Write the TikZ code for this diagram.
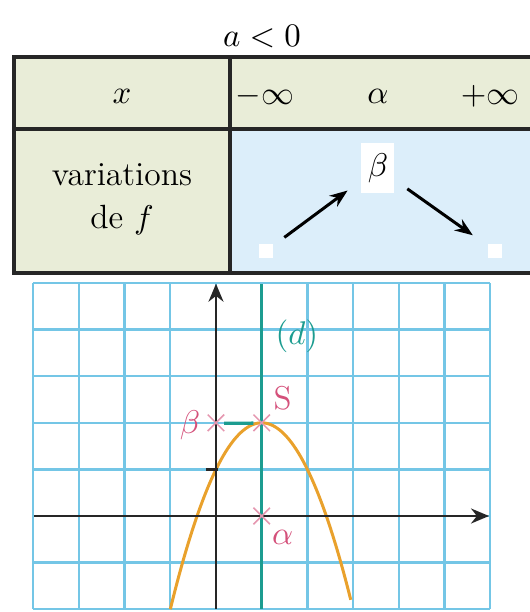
\documentclass[tikz,border=0pt]{standalone}
\usepackage{amsmath}
\usepackage{xcolor}
\usetikzlibrary{arrows.meta}
\usetikzlibrary{shapes.misc}
\usetikzlibrary{positioning}

\definecolor{vertpale}{HTML}{E9EDD8}
\definecolor{bleupale}{HTML}{DCEEFA}
\definecolor{bleugrille}{HTML}{74C6E6}
\definecolor{sarcelle}{HTML}{1C9C90}
\definecolor{rose}{HTML}{D4507A}
\definecolor{orange}{HTML}{E9A12C}

\tikzset{
  trait/.style={line width=1.1pt, draw=black!85},
  fleche/.style={line width=1pt, -{Stealth[length=6pt,width=4.5pt]}},
  blanc/.style={fill=white, minimum size=4.6pt, inner sep=0pt},
  boitebeta/.style={fill=white, minimum width=11pt, minimum height=16.5pt, inner sep=0pt},
  grille/.style={line width=0.8pt, bleugrille},
  axe/.style={line width=0.8pt, black!85},
  droite/.style={line width=0.8pt, sarcelle},
  courbe/.style={line width=1pt, orange},
  croix/.style={cross out, draw=rose!60, line width=0.5pt, minimum size=5pt, inner sep=0pt},
  etiq/.style={text=rose, font=\fontsize{11}{13}\selectfont}
}

\begin{document}
\begin{tikzpicture}[x=0.3333pt, y=-0.3333pt, font=\fontsize{11.2}{14.3}\selectfont]
\useasboundingbox (0,0) rectangle (530,612);

% tableau de variations
\fill[vertpale] (14,57) rectangle (532,129);
\fill[vertpale] (14,129) rectangle (230,273);
\fill[bleupale] (230,129) rectangle (532,273);
\draw[trait] (14,57) rectangle (532,273);
\draw[trait] (14,129) -- (532,129);
\draw[trait] (230,57) -- (230,273);

\node (titre) at (262,37) {$a<0$};
\node (x) at (122,96) {$x$};
\node (minf) at (265,96) {$-\infty$};
\node (alpha) at (378,96) {$\alpha$};
\node (pinf) at (490,96) {$+\infty$};
\node[align=center] (var) at (122,199) {variations\\de $f$};
\node[boitebeta] (beta) at (378,168) {$\beta$};
\node[blanc] (bas1) at (266,251) {};
\node[blanc] (bas2) at (495,251) {};
\draw[fleche, shorten <=4.5pt, shorten >=5.5pt] (bas1) -- (beta);
\draw[fleche, shorten <=5pt, shorten >=6pt] (beta) -- (bas2);

% repere et parabole
\begin{scope}[shift={(216,516)}, xscale=45.7, yscale=-46.6]
\foreach \i in {-4,...,6}
  \draw[grille] (\i,-2) -- (\i,5);
\foreach \j in {-2,...,5}
  \draw[grille] (-4,\j) -- (6,\j);

\coordinate (xg) at (-4,0);
\coordinate (xd) at (6,0);
\coordinate (yb) at (0,-2);
\coordinate (yh) at (0,5);
\coordinate (db) at (1,-2);
\coordinate (dh) at (1,5);

\draw[courbe] plot[domain=-1:2.95, samples=80] (\x,{2-(\x-1)^2});
\draw[axe, -{Stealth[length=6pt,width=5pt]}] (xg) -- (xd);
\draw[axe, -{Stealth[length=6pt,width=5pt]}] (yb) -- (yh);
\draw[droite] (db) -- (dh);
\draw[axe] (-0.22,1) -- (0.04,1);

\node[croix] (cb) at (0,2) {};
\node[croix] (S) at (1,2) {};
\node[croix] (ca) at (1,0) {};
\draw[droite, line width=1.1pt] (cb) -- (S);

\node[text=sarcelle, font=\fontsize{11}{13}\selectfont] (nomd) at (1.77,3.86) {$(d)$};
\node[etiq] (nomS) at (1.46,2.53) {S};
\node[etiq] (nomb) at (-0.57,1.95) {$\beta$};
\node[etiq] (noma) at (1.46,-0.47) {$\alpha$};
\end{scope}
\end{tikzpicture}
\end{document}
